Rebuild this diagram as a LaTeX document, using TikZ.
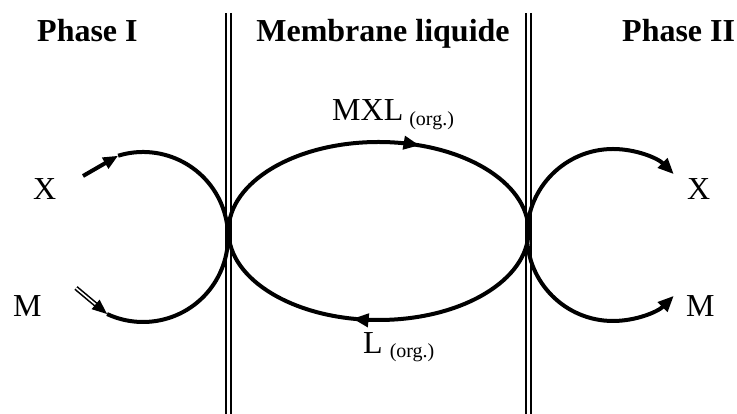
\documentclass[tikz,border=0pt]{standalone}
\usepackage{fontspec}
\setmainfont{Liberation Serif}
\usetikzlibrary{arrows.meta,decorations.markings}

\begin{document}
\begin{tikzpicture}[x=1pt, y=1pt,
    orbit/.style={line width=4pt},
    endtip/.style={-{Triangle[length=16pt,width=13pt]}},
    wall/.style={double, line width=2.2pt, double distance=2.2pt},
    phase/.style={font=\fontsize{32}{38}\selectfont\bfseries, inner sep=0pt},
    lbl/.style={font=\fontsize{32}{38}\selectfont, inner sep=0pt, anchor=base west}
]
\useasboundingbox (0,0) rectangle (737,414);

% membrane walls
\coordinate (wLtop) at (228.5,401);
\coordinate (wLbot) at (228.5,0);
\coordinate (wRtop) at (528.5,401);
\coordinate (wRbot) at (528.5,0);
\draw[wall] (wLtop) -- (wLbot);
\draw[wall] (wRtop) -- (wRbot);

% headings
\node[phase, anchor=base west] (phaseI) at (37,372) {Phase I};
\node[phase, anchor=base] (membrane) at (383,372) {Membrane liquide};
\node[phase, anchor=base west] (phaseII) at (622,372) {Phase II};

% centres
\coordinate (cL) at (143,177);
\coordinate (cM) at (378.5,183);
\coordinate (cR) at (613,179);

% Phase I circle
\path (cL) ++(107:85) coordinate (xin);
\path (cL) ++(-115:85) coordinate (min);
\coordinate (xtail) at (83,238);
\coordinate (mtail) at (76,126);
\draw[orbit] (xin) arc[start angle=107, end angle=-115, radius=85];
\draw[line width=4pt, -{Triangle[length=15pt,width=12pt]}] (xtail) -- (xin);
\draw[double, line width=1.6pt, double distance=1.6pt, -{Triangle[length=15pt,width=12pt]}] (mtail) -- (min);

% liquid membrane loop
\path (cM) ++(180:150 and 89) coordinate (eL);
\draw[orbit, decoration={markings,
        mark=at position 0.304 with {\arrow{Triangle[length=16pt,width=13pt]}},
        mark=at position 0.784 with {\arrow{Triangle[length=16pt,width=13pt]}}},
    postaction={decorate}]
  (eL) arc[start angle=180, end angle=-180, x radius=150, y radius=89];

% Phase II circle
\path (cR) ++(180:86) coordinate (rin);
\draw[orbit, endtip] (rin) arc[start angle=180, end angle=45, radius=86];
\draw[orbit, endtip] (rin) arc[start angle=180, end angle=315, radius=86];

% species
\node[lbl] (xleft) at (33,214) {X};
\node[lbl] (mleft) at (13,97) {M};
\node[lbl] (xright) at (687,214) {X};
\node[lbl] (mright) at (686,97) {M};
\node[lbl] (mxl) at (332,293) {MXL\hspace{6pt}\raisebox{-4.5pt}{\fontsize{20}{24}\selectfont(org.)}};
\node[lbl] (lorg) at (363,60) {L\hspace{7pt}\raisebox{-4pt}{\fontsize{20}{24}\selectfont(org.)}};

\end{tikzpicture}
\end{document}
